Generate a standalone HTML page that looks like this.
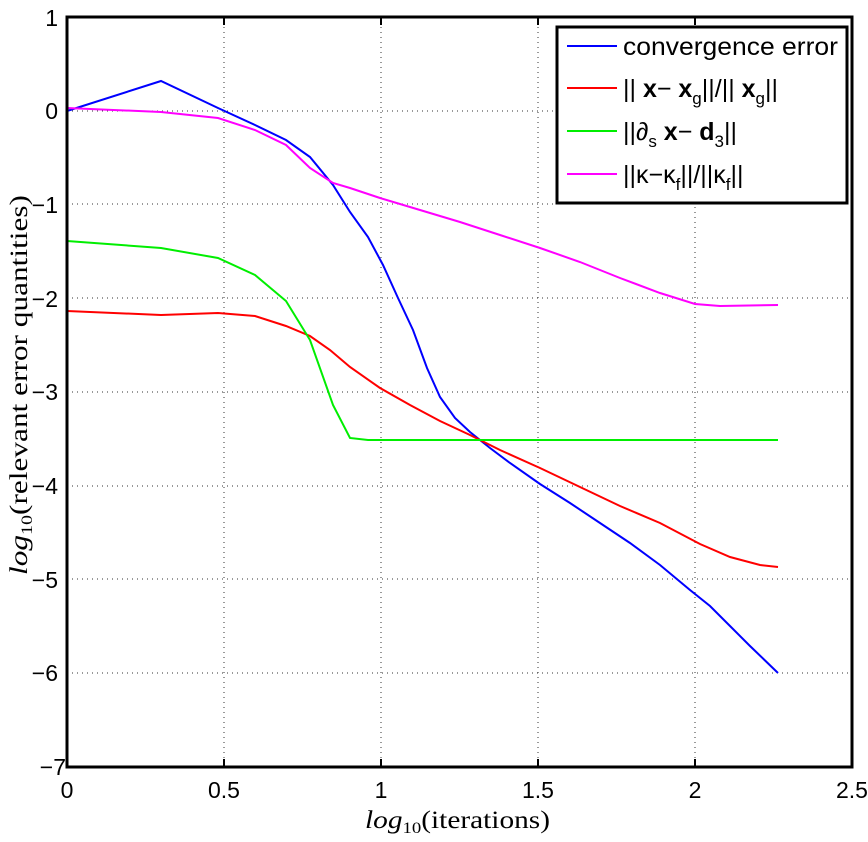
<!DOCTYPE html>
<html><head><style>body{margin:0;background:#fff}</style></head><body>
<svg width="868" height="837" xmlns="http://www.w3.org/2000/svg" font-family="Liberation Sans, sans-serif">
<rect width="868" height="837" fill="#fff"/>
<g stroke="#333" stroke-width="1" stroke-dasharray="1,4">
<line x1="224" y1="17" x2="224" y2="767"/><line x1="381" y1="17" x2="381" y2="767"/><line x1="538" y1="17" x2="538" y2="767"/><line x1="695" y1="17" x2="695" y2="767"/>
<line x1="67" y1="111" x2="852" y2="111"/><line x1="67" y1="204" x2="852" y2="204"/><line x1="67" y1="298" x2="852" y2="298"/><line x1="67" y1="392" x2="852" y2="392"/><line x1="67" y1="486" x2="852" y2="486"/><line x1="67" y1="579" x2="852" y2="579"/><line x1="67" y1="673" x2="852" y2="673"/>
</g>
<g fill="none" stroke-width="2">
<polyline stroke="#0000ff" points="67,111 161,81 218,108 255,125 286,140 310,157 333,185 350,212 368,237 383,265 398,298 413,330 427,368 440,397 455,418 470,432 490,448 510,463 540,484 570,503 600,523 630,543 660,565 690,590 710,606 730,626 750,646 778,673"/>
<polyline stroke="#ff0000" points="67,311 161,315 218,313 255,316 286,326 310,336 330,350 350,367 380,388 410,405 440,421 470,435 500,450 540,468 580,487 620,506 660,523 700,544 730,557 760,565 778,567"/>
<polyline stroke="#00ee00" points="67,241 161,248 218,258 255,275 286,301 310,340 333,405 350,438 368,440 778,440"/>
<polyline stroke="#ff00ff" points="67,108 161,112 218,118 255,130 286,145 310,168 333,183 350,188 380,198 420,210 460,222 500,235 540,248 580,262 620,278 660,293 695,304 720,306 778,305"/>
</g>
<rect x="67" y="17" width="785" height="750" fill="none" stroke="#000" stroke-width="3"/>
<g stroke="#000" stroke-width="2">
<line x1="224" y1="767" x2="224" y2="759"/><line x1="381" y1="767" x2="381" y2="759"/><line x1="538" y1="767" x2="538" y2="759"/><line x1="695" y1="767" x2="695" y2="759"/>
<line x1="224" y1="17" x2="224" y2="25"/><line x1="381" y1="17" x2="381" y2="25"/><line x1="538" y1="17" x2="538" y2="25"/><line x1="695" y1="17" x2="695" y2="25"/>
</g>
<g font-size="23" text-anchor="end">
<text x="58" y="26">1</text><text x="58" y="119">0</text><text x="58" y="213">−1</text><text x="58" y="307">−2</text><text x="58" y="400">−3</text><text x="58" y="494">−4</text><text x="58" y="588">−5</text><text x="58" y="681">−6</text><text x="66" y="775">−7</text>
</g>
<g font-size="23" text-anchor="middle">
<text x="67" y="798">0</text><text x="224" y="798">0.5</text><text x="381" y="798">1</text><text x="538" y="798">1.5</text><text x="695" y="798">2</text><text x="852" y="798">2.5</text>
</g>
<text x="365" y="828" font-family="Liberation Serif, serif" font-size="25" textLength="185" lengthAdjust="spacingAndGlyphs"><tspan font-style="italic">log</tspan><tspan font-size="16" dy="5">10</tspan><tspan dy="-5">(iterations)</tspan></text>
<text transform="translate(27,575) rotate(-90)" font-family="Liberation Serif, serif" font-size="25" textLength="380" lengthAdjust="spacingAndGlyphs"><tspan font-style="italic">log</tspan><tspan font-size="16" dy="5">10</tspan><tspan dy="-5">(relevant error quantities)</tspan></text>
<rect x="557" y="27" width="290" height="176" fill="#fff" stroke="#000" stroke-width="3"/>
<g stroke-width="2"><line x1="567" y1="46" x2="617" y2="46" stroke="#0000ff"/><line x1="567" y1="88" x2="617" y2="88" stroke="#ff0000"/><line x1="567" y1="131" x2="617" y2="131" stroke="#00ee00"/><line x1="567" y1="174" x2="617" y2="174" stroke="#ff00ff"/></g>
<g font-size="25">
<text x="623" y="55" textLength="215" lengthAdjust="spacingAndGlyphs">convergence error</text>
<text x="623" y="97">|| <tspan font-weight="bold">x</tspan>− <tspan font-weight="bold">x</tspan><tspan font-size="17" dy="7">g</tspan><tspan dy="-7">||/|| </tspan><tspan font-weight="bold">x</tspan><tspan font-size="17" dy="7">g</tspan><tspan dy="-7">||</tspan></text>
<text x="623" y="140">||∂<tspan font-size="17" dy="7">s</tspan><tspan dy="-7"> </tspan><tspan font-weight="bold">x</tspan>− <tspan font-weight="bold">d</tspan><tspan font-size="17" dy="7">3</tspan><tspan dy="-7">||</tspan></text>
<text x="623" y="183">||κ−κ<tspan font-size="17" dy="7">f</tspan><tspan dy="-7">||/||κ</tspan><tspan font-size="17" dy="7">f</tspan><tspan dy="-7">||</tspan></text>
</g>
</svg>
</body></html>
